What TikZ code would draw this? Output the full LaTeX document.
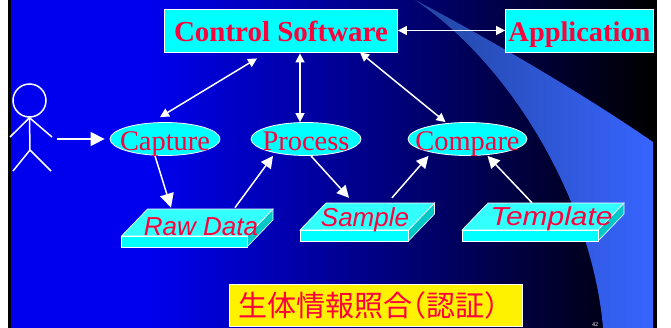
\documentclass[tikz,border=0pt]{standalone}
\usepackage{fontspec}
\usepackage{tikz}
\usetikzlibrary{arrows.meta,shapes.geometric}
\setmainfont{Liberation Serif}
\newfontfamily\slabfont{Liberation Sans}
\newfontfamily\cjkfont[RawFeature=+halt]{Noto Sans CJK JP}
\definecolor{slabred}{RGB}{255,0,60}
\definecolor{purecyan}{RGB}{0,255,255}
\definecolor{slabcyan}{RGB}{51,255,255}
\definecolor{sidecyan}{RGB}{0,200,200}
\definecolor{backblue}{RGB}{0,0,238}
\definecolor{swooshblue}{RGB}{55,100,255}
\definecolor{swooshdark}{RGB}{35,70,160}
\tikzset{
  boxnode/.style={draw=white, fill=purecyan, line width=0.8pt, text=slabred, inner sep=0pt,
    text height=21pt, text depth=0pt, font=\fontsize{28.4}{30}\selectfont\bfseries},
  procnode/.style={ellipse, draw=white, fill=purecyan, line width=0.8pt, text=slabred,
    inner xsep=-12pt, inner ysep=-4pt, text height=22pt, text depth=0pt,
    minimum height=33pt, font=\fontsize{28.4}{30}\selectfont},
  slabnode/.style={text=slabred, inner sep=0pt, text height=19pt, text depth=0pt,
    font=\slabfont\itshape\fontsize{26}{28}\selectfont},
  dblarrow/.style={draw=white, line width=1.5pt, {Triangle[length=9pt,width=9pt]}-{Triangle[length=9pt,width=9pt]}},
  bigarrow/.style={draw=white, line width=1.5pt, -{Triangle[length=14pt,width=14pt]}},
  midarrow/.style={draw=white, line width=1.5pt, -{Triangle[length=12pt,width=12pt]}},
}
\begin{document}
\begin{tikzpicture}[x=1pt,y=-1pt]
  % Hintergrund
  \useasboundingbox (0,0) rectangle (671,327);
  \fill[white] (0,-2) rectangle (671,329);
  \fill[black] (8,-2) rectangle (657,329);
  \fill[backblue] (11,-2) rectangle (150,329);
  \shade[left color=backblue, right color=black] (150,-2) rectangle (653,329);

  % Bogen rechts
  \shade[left color=swooshdark, right color=swooshblue]
    (415,0) .. controls (450,18) and (560,78) .. (653,142)
    -- (653,329) -- (603,329) -- (603,327) .. controls (592,205) and (515,68) .. (415,0);
  \node[text=white, inner sep=0pt, font=\fontsize{6}{6}\selectfont] (pagenum) at (595,324.5) {42};

  % Kontrollbox und Anwendung
  \node[boxnode, minimum width=233pt, minimum height=43pt] (control) at (281,30.5) {\fontsize{29}{30}\selectfont Control Software};
  \node[boxnode, minimum width=148pt, minimum height=43pt] (application) at (579.5,30.5) {Application};

  % Prozesse
  \foreach \name/\x/\w/\t in {capture/165/110/Capture, process/306/110/Process, compare/467.5/119/Compare} {
    \node[procnode, minimum width=\w pt] (\name) at (\x,139) {\t};
  }

  % Datenplatten
  \foreach \name/\x/\y/\w/\tx/\ty/\t in {rawdata/121.5/236/125.5/201/226/Raw Data, sample/300/230/108.5/365/216.5/Sample, template/462/230/136/551.5/215.5/\scalebox{1.15}[1]{Template}} {
    \fill[sidecyan, draw=white, line width=0.6pt] (\x+\w,\y) -- (\x+\w+26,\y-27) -- (\x+\w+26,\y-16) -- (\x+\w,\y+11) -- cycle;
    \fill[slabcyan, draw=white, line width=0.6pt] (\x,\y) -- (\x+26,\y-27) -- (\x+\w+26,\y-27) -- (\x+\w,\y) -- cycle;
    \fill[purecyan, draw=white, line width=0.6pt] (\x,\y) rectangle (\x+\w,\y+11);
    \node[slabnode] (\name) at (\tx,\ty) {\t};
  }

  % Person
  \node[circle, draw=white, line width=1.5pt, minimum size=33pt, inner sep=0pt] (head) at (29.5,100.5) {};
  \coordinate (hip) at (30,150);
  \coordinate (person) at (57,139);
  \draw[white, line width=1.5pt] (head.south) -- (hip) -- (13,171);
  \draw[white, line width=1.5pt] (hip) -- (51,171);
  \draw[white, line width=1.5pt] (10,137) -- (head.south) -- (52,137);

  % Pfeile
  \draw[bigarrow] (person) -- ([xshift=-5pt]capture.west);
  \draw[dblarrow] ([shift={(-24,6)}]control.south) -- ([shift={(-5,-5)}]capture.north);
  \draw[dblarrow] ([shift={(19,1)}]control.south) -- ([shift={(-6,0)}]process.north);
  \draw[dblarrow] (control.east) -- (application.west);
  \draw[dblarrow] ([shift={(79,0)}]control.south) -- ([shift={(-22,0)}]compare.north);
  \draw[bigarrow] ([shift={(-10,0)}]capture.south) -- ([shift={(-30,-8.7)}]rawdata.north);
  \draw[midarrow] ([shift={(34,-8.7)}]rawdata.north) -- ([shift={(-33,0)}]process.south);
  \draw[midarrow] ([shift={(5,0)}]process.south) -- ([shift={(-16,-9)}]sample.north);
  \draw[midarrow] ([shift={(27,-9)}]sample.north) -- ([shift={(-39,0)}]compare.south);
  \draw[midarrow] ([shift={(-19.5,-3)}]template.north) -- ([shift={(20,0)}]compare.south);

  % Titel
  \node[draw=white, line width=0.5pt, fill=yellow, text=slabred, minimum width=293pt, minimum height=42pt, inner sep=0pt,
    font=\cjkfont\fontsize{29}{30}\selectfont] (title) at (375.5,305) {\hspace*{-14pt}生体情報照合（認証）};
\end{tikzpicture}
\end{document}
